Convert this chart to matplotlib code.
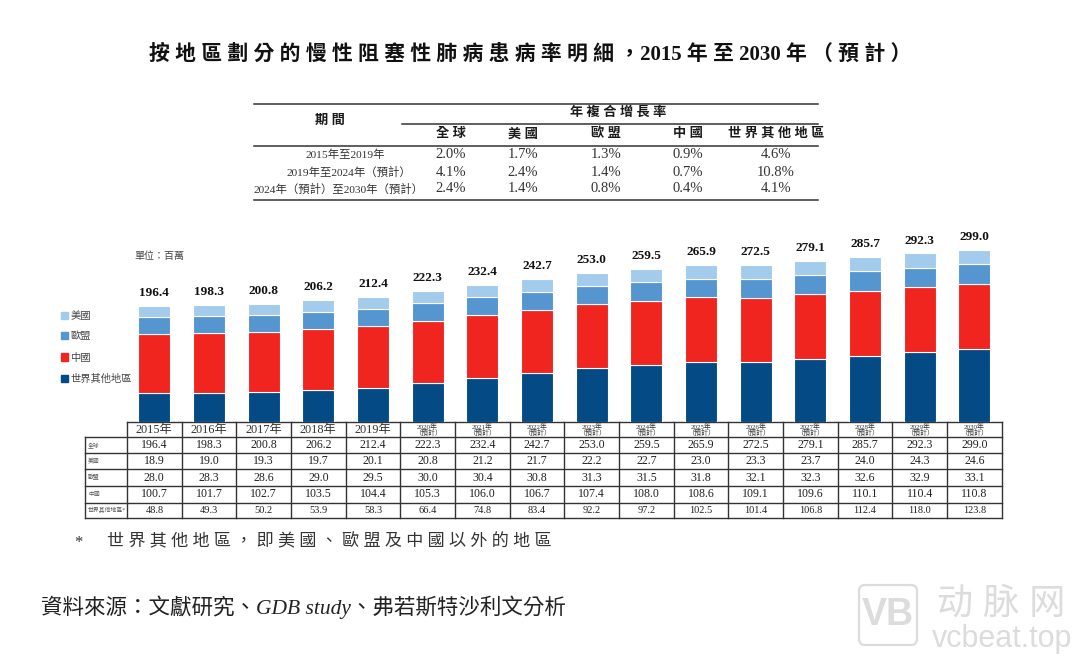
"""Stacked COPD prevalence bars with CAGR table above and data table below."""

import matplotlib
matplotlib.use("Agg")
import matplotlib.pyplot as plt
from matplotlib.patches import FancyBboxPatch, Patch

W, H = 1080, 657
SERIF = ["Liberation Serif", "Noto Sans CJK TC"]

years = ["2015年", "2016年", "2017年", "2018年", "2019年"] + [
    f"{y}年\n\uff08預計\uff09" for y in range(2020, 2031)
]
total = [196.4, 198.3, 200.8, 206.2, 212.4, 222.3, 232.4, 242.7, 253.0, 259.5, 265.9, 272.5, 279.1, 285.7, 292.3, 299.0]
usa = [18.9, 19.0, 19.3, 19.7, 20.1, 20.8, 21.2, 21.7, 22.2, 22.7, 23.0, 23.3, 23.7, 24.0, 24.3, 24.6]
eu = [28.0, 28.3, 28.6, 29.0, 29.5, 30.0, 30.4, 30.8, 31.3, 31.5, 31.8, 32.1, 32.3, 32.6, 32.9, 33.1]
china = [100.7, 101.7, 102.7, 103.5, 104.4, 105.3, 106.0, 106.7, 107.4, 108.0, 108.6, 109.1, 109.6, 110.1, 110.4, 110.8]
rest = [48.8, 49.3, 50.2, 53.9, 58.3, 66.4, 74.8, 83.4, 92.2, 97.2, 102.5, 101.4, 106.8, 112.4, 118.0, 123.8]

row_labels = ["全球", "美國", "歐盟", "中國", "世界其他地區*"]
row_values = [total, usa, eu, china, rest]

cagr_columns = ["全球", "美國", "歐盟", "中國", "世界其他地區"]
cagr_periods = ["2015年至2019年", "2019年至2024年\uff08預計\uff09", "2024年\uff08預計\uff09至2030年\uff08預計\uff09"]
cagr_values = [
    ["2.0%", "1.7%", "1.3%", "0.9%", "4.6%"],
    ["4.1%", "2.4%", "1.4%", "0.7%", "10.8%"],
    ["2.4%", "1.4%", "0.8%", "0.4%", "4.1%"],
]

fig = plt.figure(figsize=(W / 100, H / 100), dpi=100)

# overlay in pixel coordinates for the tables and loose text
page = fig.add_axes([0, 0, 1, 1])
page.set_xlim(0, W)
page.set_ylim(H, 0)
page.axis("off")


def ptext(x, y, s, size, ha="center", weight="normal", color="#1a1a1a", style="normal", family=SERIF):
    page.text(x, y, s, fontsize=size, ha=ha, va="center", fontweight=weight,
              color=color, fontstyle=style, family=family, linespacing=0.9)


ptext(530, 55, "按 地 區 劃 分 的 慢 性 阻 塞 性 肺 病 患 病 率 明 細 \uff0c2015 年 至 2030 年 \uff08 預 計 \uff09",
      15, weight="bold", color="#111111")

# CAGR table
for y, x0 in [(104, 254), (124, 402), (146, 254), (200, 254)]:
    page.plot([x0, 818], [y, y], color="#333333", lw=1.1)
ptext(330, 121, "期 間", 9.5, weight="bold")
ptext(618, 113, "年 複 合 增 長 率", 9.5, weight="bold")
cagr_x = [451, 523, 606, 688, 776]
for x, name in zip(cagr_x, cagr_columns):
    ptext(x, 134, " ".join(name), 9.5, weight="bold")
for y, px, period, row in zip([155, 172, 189], [345, 349, 339], cagr_periods, cagr_values):
    ptext(px, y, period, 8.2, color="#333333")
    for x, val in zip(cagr_x, row):
        ptext(x, y, val, 10.5, color="#333333")

# bars
n = len(years)
col_w = 54.67
left = 127
base = 422
scale = 0.59
ax = fig.add_axes([left / W, 1 - base / H, n * col_w / W, 300 * scale / H])
ax.set_xlim(-0.5, n - 0.5)
ax.set_ylim(0, 300)
ax.axis("off")
xs = list(range(n))
bottom = [0.0] * n
series = [("世界其他地區", rest, "#044A84"), ("中國", china, "#F1251F"),
          ("歐盟", eu, "#5595D0"), ("美國", usa, "#A3CBEC")]
for name, vals, color in series:
    ax.bar(xs, vals, width=0.585, bottom=bottom, color=color, edgecolor="white", linewidth=0.8)
    bottom = [b + v for b, v in zip(bottom, vals)]
# labels sit on the drawn stack, which from 2026 is shorter than the printed total
for x, top, t in zip(xs, bottom, total):
    ax.text(x, top + 22, f"{t:.1f}", ha="center", va="center", fontsize=9.5, fontweight="bold",
            family=SERIF, color="#111111", clip_on=False)

handles = [Patch(color=c, label=name) for name, _, c in reversed(series)]
fig.legend(handles=handles, loc="upper left", bbox_to_anchor=(61 / W, 1 - 311 / H), frameon=False,
           prop={"family": SERIF, "size": 7.4}, handlelength=0.7, handleheight=0.7, handletextpad=0.2,
           labelspacing=1.1, labelcolor="#444444", borderpad=0, borderaxespad=0)
ptext(134, 256, "單位\uff1a百萬", 7.2, ha="left", color="#444444")

# data table below the bars
row_y = [421.7, 437.3, 453.3, 469.3, 486, 502.7, 517.7]
right = left + n * col_w
page.plot([left, right], [row_y[0], row_y[0]], color="#333333", lw=1)
for y in row_y[1:]:
    page.plot([85, right], [y, y], color="#333333", lw=1)
page.plot([85, 85], [row_y[1], row_y[-1]], color="#333333", lw=1)
for i in range(n + 1):
    x = left + i * col_w
    page.plot([x, x], [row_y[0], row_y[-1]], color="#333333", lw=1)
for i, year in enumerate(years):
    cx = left + (i + 0.5) * col_w
    ptext(cx, (row_y[0] + row_y[1]) / 2, year, 8.8 if i < 5 else 5, color="#333333")
for r, (label, vals) in enumerate(zip(row_labels, row_values)):
    cy = (row_y[r + 1] + row_y[r + 2]) / 2
    ptext(88, cy, label, 4.2, ha="left", color="#555555")
    for i, v in enumerate(vals):
        ptext(left + (i + 0.5) * col_w, cy, f"{v:.1f}", 8.6 if r < 4 else 7.5, color="#222222")

ptext(78, 543, "*", 12, color="#333333")
ptext(107, 542, "世 界 其 他 地 區 \uff0c 即 美 國 、 歐 盟 及 中 國 以 外 的 地 區", 12.3, ha="left", color="#333333")
ptext(41, 607, "資料來源\uff1a文獻研究、GDB study、弗若斯特沙利文分析", 15.5, ha="left",
      style="italic", color="#222222")

# watermark
page.add_patch(FancyBboxPatch((859, 585), 58, 60, boxstyle="round,pad=0,rounding_size=6",
                              fc="none", ec="#DCDCDC", lw=1.6))
ptext(888, 615, "VB", 27, weight="bold", color="#DCDCDC", family=["Liberation Sans"])
ptext(1001, 604, "动 脉 网", 26, color="#DCDCDC", family=["Liberation Sans", "Noto Sans CJK SC"])
ptext(1002, 639, "vcbeat.top", 22, color="#DCDCDC", family=["Liberation Sans"])

fig.savefig("out.png", dpi=100)
